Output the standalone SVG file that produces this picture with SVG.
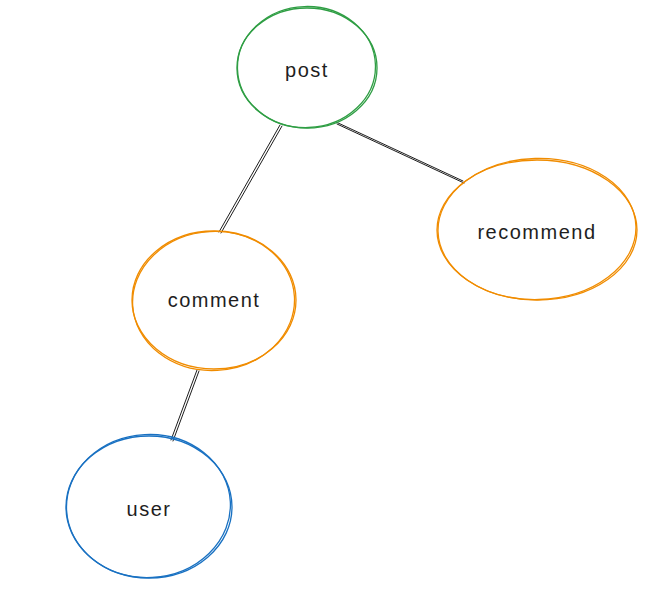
<svg xmlns="http://www.w3.org/2000/svg" width="664" height="600" viewBox="0 0 664 600">
<style>
.node{fill:none;stroke-width:1.3}
.green{stroke:#2f9e44}
.orange{stroke:#f08c00}
.blue{stroke:#1971c2}
.lbl{font-family:"Liberation Sans",Arial,sans-serif;font-size:20px;letter-spacing:1.5px;fill:#1e1e1e;text-anchor:middle;dominant-baseline:central}
.edge{stroke:#1e1e1e;stroke-width:1;fill:none;stroke-linecap:round}
</style>
<rect width="664" height="600" fill="#ffffff"/>
<g id="connectors">
<path class="edge" d="M280 125 L219 232 M282 126 L221 233"/>
<path class="edge" d="M336 122 L463 181 M337 124 L464 183"/>
<path class="edge" d="M197 370 L171 440 M199 371 L173 441"/>
</g>
<g id="post">
<ellipse class="node green" cx="307" cy="68" rx="70" ry="60"/>
<ellipse class="node green" cx="306.5" cy="67" rx="69" ry="60.5" transform="rotate(-2 307 68)"/>
<text class="lbl" x="307" y="70">post</text>
</g>
<g id="recommend">
<ellipse class="node orange" cx="537" cy="230" rx="100" ry="70"/>
<ellipse class="node orange" cx="537" cy="229" rx="99" ry="70.5" transform="rotate(-1.5 537 230)"/>
<text class="lbl" x="537" y="232">recommend</text>
</g>
<g id="comment">
<ellipse class="node orange" cx="214" cy="300" rx="82" ry="69"/>
<ellipse class="node orange" cx="213.5" cy="301" rx="81" ry="69.5" transform="rotate(-3 214 300)"/>
<text class="lbl" x="214" y="300">comment</text>
</g>
<g id="user">
<ellipse class="node blue" cx="149" cy="507" rx="83" ry="71"/>
<ellipse class="node blue" cx="148.5" cy="506" rx="82" ry="71.5" transform="rotate(-3 149 507)"/>
<text class="lbl" x="149" y="509">user</text>
</g>
</svg>
